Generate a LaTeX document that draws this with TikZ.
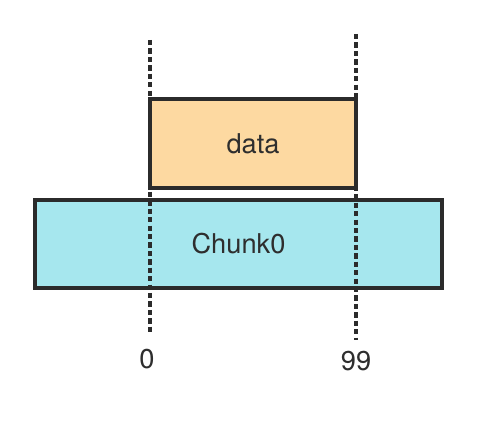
\documentclass[tikz,border=0pt]{standalone}
\usepackage{fontspec}
\setmainfont{TeX Gyre Heros}
\usetikzlibrary{positioning}

\definecolor{datafill}{HTML}{FDD9A1}
\definecolor{chunkfill}{HTML}{A6E7EE}
\definecolor{edge}{HTML}{2B2B2B}
\definecolor{ink}{HTML}{2E2E2E}

\begin{document}
\begin{tikzpicture}[x = 0.02cm, y = -0.02cm,
	block/.style = {draw = edge, line width = 2.2pt, inner sep = 0pt, text = ink,
		font = \fontsize{15.5}{18}\selectfont},
	bound/.style = {draw = edge, line width = 2.2pt, dash pattern = on 3pt off 1.8pt},
	tick/.style = {text = ink, font = \fontsize{15.5}{18}\selectfont}]

	% Page size

	\useasboundingbox (0, 0) rectangle (498, 442);

	% Chunk and data blocks

	\node [block, fill = chunkfill, minimum width = 8.14cm, minimum height = 1.76cm]
		(chunk) at (238.5, 244) {Chunk0};
	\node [block, fill = datafill, minimum width = 4.12cm, minimum height = 1.78cm]
		(data) at (253, 143.5) {data};

	% Boundaries of the data

	\coordinate (lo top) at (150, 40);
	\coordinate (lo bot) at (150, 333);
	\coordinate (hi top) at (356, 34);
	\coordinate (hi bot) at (356, 340);

	\draw [bound] (lo top) -- (lo bot);
	\draw [bound] (hi top) -- (hi bot);

	% Offsets

	\node [tick] (lo) at (147, 359) {0};
	\node [tick] (hi) at (356, 361) {99};

\end{tikzpicture}
\end{document}
